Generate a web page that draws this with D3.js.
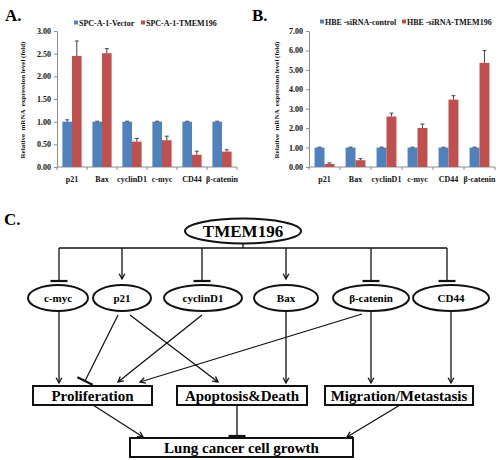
<!DOCTYPE html>
<html>
<head>
<meta charset="utf-8">
<script src="https://cdn.jsdelivr.net/npm/d3@7"></script>
<style>
  body { margin: 0; background: #fff; }
  text { font-family: "Liberation Serif", "Times New Roman", serif; font-weight: bold; }
</style>
</head>
<body>
<svg id="fig" width="500" height="460"></svg>
<script>
// ---- data: panel A ----
const categories = ["p21", "Bax", "cyclinD1", "c-myc", "CD44", "β-catenin"];
const vectorA = [1.00, 1.00, 1.00, 1.00, 1.00, 1.00];
const vectorErrA = [0.04, 0.01, 0.01, 0.01, 0.01, 0.01];
const tmemA = [2.45, 2.51, 0.56, 0.59, 0.27, 0.34];
const tmemErrA = [0.33, 0.10, 0.07, 0.09, 0.08, 0.04];
const ticksA = [0, 0.5, 1, 1.5, 2, 2.5, 3];

// ---- data: panel B ----
const controlB = [1.00, 1.00, 1.00, 1.00, 1.00, 1.00];
const controlErrB = [0.02, 0.02, 0.02, 0.02, 0.02, 0.02];
const sirnaB = [0.16, 0.35, 2.60, 2.01, 3.47, 5.36];
const sirnaErrB = [0.05, 0.08, 0.17, 0.20, 0.20, 0.63];
const ticksB = [0, 1, 2, 3, 4, 5, 6, 7];

// ---- data: panel C (pathway) ----
const hub = "TMEM196";
const genes = ["c-myc", "p21", "cyclinD1", "Bax", "β-catenin", "CD44"];
const hubEffect = ["bar", "arrow", "bar", "arrow", "bar", "bar"];
const outcomes = ["Proliferation", "Apoptosis&Death", "Migration/Metastasis"];
const geneLinks = [
    {source: "c-myc", target: "Proliferation", type: "arrow"},
    {source: "p21", target: "Proliferation", type: "bar"},
    {source: "p21", target: "Apoptosis&Death", type: "arrow"},
    {source: "cyclinD1", target: "Proliferation", type: "arrow"},
    {source: "Bax", target: "Apoptosis&Death", type: "arrow"},
    {source: "β-catenin", target: "Proliferation", type: "arrow"},
    {source: "β-catenin", target: "Migration/Metastasis", type: "arrow"},
    {source: "CD44", target: "Migration/Metastasis", type: "arrow"}
];
const finalTarget = "Lung cancer cell growth";
const finalEffect = ["arrow", "bar", "arrow"];

const blue = "#4f81bd", red = "#c0504d";
const svg = d3.select("#fig");

function barPanel(cfg) {
    const g = svg.append("g");
    const x = d3.scaleBand().domain(categories).range([cfg.x0, cfg.x1]).paddingInner(0.36).paddingOuter(0.18);
    const xs = d3.scaleBand().domain([0, 1]).range([0, x.bandwidth()]);
    const y = d3.scaleLinear().domain([0, d3.max(cfg.ticks)]).range([167, 31]);

    const yAxis = g.append("g").attr("transform", `translate(${cfg.x0},0)`)
        .call(d3.axisLeft(y).tickValues(cfg.ticks).tickFormat(d3.format(".2f")).tickSize(3).tickSizeOuter(0));
    yAxis.select(".domain").attr("stroke", "#8c8c8c");
    yAxis.selectAll(".tick line").attr("stroke", "#8c8c8c");
    yAxis.selectAll(".tick text").attr("font-size", 8).attr("font-family", "Liberation Serif").attr("fill", "#111").attr("x", -6);

    // x axis line, ticks at category boundaries
    g.append("line").attr("x1", cfg.x0).attr("x2", cfg.x1).attr("y1", y(0)).attr("y2", y(0)).attr("stroke", "#8c8c8c");
    g.selectAll(".xt").data(d3.range(categories.length + 1)).join("line")
        .attr("x1", i => cfg.x0 + i * (cfg.x1 - cfg.x0) / categories.length)
        .attr("x2", i => cfg.x0 + i * (cfg.x1 - cfg.x0) / categories.length)
        .attr("y1", y(0)).attr("y2", y(0) + 3).attr("stroke", "#8c8c8c");
    g.selectAll(".xl").data(categories).join("text")
        .attr("x", d => x(d) + x.bandwidth() / 2).attr("y", 182)
        .attr("text-anchor", "middle").attr("font-size", 8).attr("fill", "#111").text(d => d);

    const series = [{vals: cfg.s1, errs: cfg.e1, color: blue}, {vals: cfg.s2, errs: cfg.e2, color: red}];
    series.forEach((s, si) => {
        const bars = s.vals.map((v, i) => ({c: categories[i], v: v, e: s.errs[i]}));
        g.selectAll(null).data(bars).join("rect")
            .attr("x", d => x(d.c) + xs(si)).attr("width", xs.bandwidth())
            .attr("y", d => y(d.v)).attr("height", d => y(0) - y(d.v))
            .attr("fill", s.color);
        const cx = d => x(d.c) + xs(si) + xs.bandwidth() / 2;
        g.selectAll(null).data(bars).join("path")
            .attr("d", d => `M${cx(d)},${y(d.v)}V${y(d.v + d.e)}M${cx(d) - 2},${y(d.v + d.e)}H${cx(d) + 2}`)
            .attr("stroke", "#444").attr("stroke-width", 1).attr("fill", "none");
    });

    // legend
    cfg.legend.forEach((name, i) => {
        const lx = cfg.legendX[i];
        g.append("rect").attr("x", lx).attr("y", cfg.legendY - 2.5).attr("width", 4).attr("height", 4)
            .attr("fill", i === 0 ? blue : red);
        g.append("text").attr("x", lx + 5).attr("y", cfg.legendY + 2.5).attr("font-size", 8)
            .attr("fill", "#111").text(name);
    });

    g.append("text").attr("transform", `translate(${cfg.titleX},100) rotate(-90)`)
        .attr("text-anchor", "middle").attr("font-size", 7).attr("fill", "#111")
        .attr("xml:space", "preserve").text("Relative  mRNA  expression level (fold)");

    g.append("text").attr("x", cfg.labelX).attr("y", 21).attr("font-size", 17).text(cfg.label);
}

barPanel({x0: 57, x1: 237, ticks: ticksA, s1: vectorA, e1: vectorErrA, s2: tmemA, e2: tmemErrA,
    legend: ["SPC-A-1-Vector", "SPC-A-1-TMEM196"], legendX: [74, 141], legendY: 23,
    titleX: 25, label: "A.", labelX: 5});
barPanel({x0: 309, x1: 495, ticks: ticksB, s1: controlB, e1: controlErrB, s2: sirnaB, e2: sirnaErrB,
    legend: ["HBE -siRNA-control", "HBE -siRNA-TMEM196"], legendX: [320, 402], legendY: 22,
    titleX: 279, label: "B.", labelX: 252});

// ---- panel C ----
const geneX = {"c-myc": 58, "p21": 122, "cyclinD1": 203, "Bax": 286, "β-catenin": 371, "CD44": 451};
const geneRx = {"c-myc": 30, "p21": 29, "cyclinD1": 39, "Bax": 32, "β-catenin": 38, "CD44": 38};
const dropX = {"c-myc": 59, "p21": 122, "cyclinD1": 202, "Bax": 286, "β-catenin": 371, "CD44": 447};
const boxes = {"Proliferation": [33, 152], "Apoptosis&Death": [177, 307], "Migration/Metastasis": [325, 473]};
const linkEnds = [[59, 311, 59, 383], [118, 315, 85, 381], [130, 315, 218, 382], [202, 315, 118, 382],
    [286, 311, 286, 383], [362, 314, 140, 382], [371, 311, 371, 383], [451, 311, 451, 383]];
const finalEnds = [[93, 405, 143, 437], [237, 405, 237, 436], [400, 405, 347, 437]];
const geneY = 298, boxY = 386, boxH = 19, hubX = 243, hubY = 231, busY = 248;

const c = svg.append("g").attr("fill", "none").attr("stroke", "#111");

function ending(x1, y1, x2, y2, type) {
    const a = Math.atan2(y2 - y1, x2 - x1);
    c.append("line").attr("x1", x1).attr("y1", y1).attr("x2", x2).attr("y2", y2).attr("stroke-width", 1.3);
    if (type === "arrow") {
        const L = 6, w = 0.5;
        c.append("path")
            .attr("d", `M${x2 - L * Math.cos(a - w)},${y2 - L * Math.sin(a - w)}L${x2},${y2}L${x2 - L * Math.cos(a + w)},${y2 - L * Math.sin(a + w)}`)
            .attr("stroke-width", 1.3);
    } else {
        const h = 8.5, px = -Math.sin(a), py = Math.cos(a);
        c.append("line").attr("x1", x2 - h * px).attr("y1", y2 - h * py).attr("x2", x2 + h * px).attr("y2", y2 + h * py)
            .attr("stroke-width", 2.2);
    }
}

svg.append("text").attr("x", 4).attr("y", 225).attr("font-size", 17).text("C.");

// hub
c.append("ellipse").attr("cx", hubX).attr("cy", hubY).attr("rx", 58).attr("ry", 12.5).attr("stroke-width", 2);
svg.append("text").attr("x", hubX).attr("y", hubY + 6).attr("text-anchor", "middle").attr("font-size", 17).text(hub);
c.append("line").attr("x1", hubX).attr("x2", hubX).attr("y1", hubY + 12.5).attr("y2", busY).attr("stroke-width", 1.3);
c.append("line").attr("x1", dropX[genes[0]]).attr("x2", dropX[genes[genes.length - 1]]).attr("y1", busY).attr("y2", busY).attr("stroke-width", 1.3);
genes.forEach((gname, i) => {
    ending(dropX[gname], busY, dropX[gname], hubEffect[i] === "arrow" ? 279 : 281, hubEffect[i]);
});

// gene nodes
genes.forEach(gname => {
    c.append("ellipse").attr("cx", geneX[gname]).attr("cy", geneY).attr("rx", geneRx[gname]).attr("ry", 13).attr("stroke-width", 2);
    svg.append("text").attr("x", geneX[gname]).attr("y", geneY + 4).attr("text-anchor", "middle").attr("font-size", 11).text(gname);
});

geneLinks.forEach((l, i) => {
    const e = linkEnds[i];
    ending(e[0], e[1], e[2], e[3], l.type);
});

// outcome boxes
outcomes.forEach(o => {
    const b = boxes[o];
    c.append("rect").attr("x", b[0]).attr("y", boxY).attr("width", b[1] - b[0]).attr("height", boxH).attr("stroke-width", 2);
    svg.append("text").attr("x", (b[0] + b[1]) / 2).attr("y", boxY + 15).attr("text-anchor", "middle").attr("font-size", 15).text(o);
});

c.append("rect").attr("x", 130).attr("y", 438).attr("width", 223).attr("height", boxH).attr("stroke-width", 2);
svg.append("text").attr("x", 241.5).attr("y", 453).attr("text-anchor", "middle").attr("font-size", 15).text(finalTarget);

outcomes.forEach((o, i) => {
    const e = finalEnds[i];
    ending(e[0], e[1], e[2], e[3], finalEffect[i]);
});
</script>
</body>
</html>
